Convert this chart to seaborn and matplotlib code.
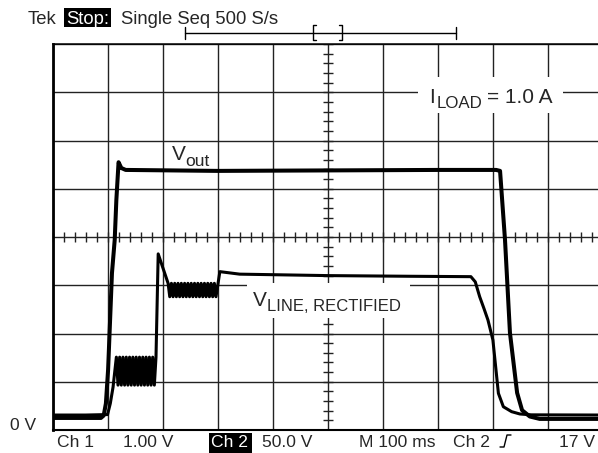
import numpy as np
import matplotlib
matplotlib.use("Agg")
import matplotlib.pyplot as plt
from matplotlib.lines import Line2D
from matplotlib.patches import Rectangle
import seaborn as sns

sns.set_style("white")
plt.rcParams["font.family"] = ["Liberation Sans", "DejaVu Sans"]

# scope settings
ch1_scale = 1.0     # V/div, Vout
ch2_scale = 50.0    # V/div, Vline
time_div = 100      # ms/div
ground_div = 0.25   # 0 V marker, divisions above the bottom

# Vout (ch 1): time in ms, volts
t_out = [0, 88, 93, 97, 101, 108, 113, 116, 120, 125, 133, 300, 500, 700,
         806, 813, 822, 831, 844, 853, 867, 885, 1000]
v_out = [0.0, 0.0, 0.05, 0.3, 1.0, 3.0, 3.69, 4.52, 5.30, 5.18, 5.14, 5.12,
         5.13, 5.14, 5.14, 5.12, 3.69, 1.76, 0.52, 0.16, 0.03, -0.02, -0.02]

# V_LINE rectified (ch 2): time in ms, volts
t_line = [0, 60, 100, 105, 110, 116,
          119, 122, 125, 128, 131, 134, 137, 140, 143, 146, 149, 152,
          155, 158, 161, 164, 167, 170, 173, 176, 179, 182, 185, 188,
          192,
          210, 213, 216, 219, 222, 225, 228, 231, 234, 237, 240, 243, 246, 249, 252,
          255, 258, 261, 264, 267, 270, 273, 276, 279, 282, 285, 288, 291, 294, 297,
          304, 340, 500, 650, 760, 768, 776, 784, 791, 800, 805, 810, 819, 834,
          849, 870, 1000]
v_line = [3, 3, 3.5, 15, 32, 63,
          34, 63, 34, 63, 34, 63, 34, 63, 34, 63, 34, 63,
          34, 63, 34, 63, 34, 63, 34, 63, 34, 63, 34, 63,
          170,
          139.5, 125.6, 139.5, 125.6, 139.5, 125.6, 139.5, 125.6, 139.5, 125.6,
          139.5, 125.6, 139.5, 125.6, 139.5, 125.6, 139.5, 125.6, 139.5, 125.6,
          139.5, 125.6, 139.5, 125.6, 139.5, 125.6, 139.5, 125.6, 139.5, 125.6,
          151.6, 149, 147.5, 146.8, 146.4, 141, 125.6, 113, 101.5, 80.8, 53.1,
          25.5, 11.6, 6.5, 4.1, 3.2, 3.0]

W, H = 598, 453
fig = plt.figure(figsize=(W / 100, H / 100), dpi=100)
# screen grid: 10 x 55 px wide, 8 x 48.25 px high (right edge is cut off)
ax = fig.add_axes([52.5 / W, (H - 430) / H, 550.5 / W, 386 / H])
ax.set_xlim(0, 10 * time_div)
ax.set_ylim(-ground_div * ch1_scale, (8 - ground_div) * ch1_scale)

grid_col = "#222222"
ax.set_xticks(np.arange(0, 10 * time_div + 1, time_div))
ax.set_yticks(ax.get_ylim()[0] + np.arange(9) * ch1_scale)
ax.grid(True, color=grid_col, linewidth=1.0)
ax.tick_params(length=0, labelbottom=False, labelleft=False)
for side, lw in [("left", 2.0), ("bottom", 1.5), ("top", 1.1)]:
    ax.spines[side].set_linewidth(lw)
    ax.spines[side].set_color("black")
ax.spines["right"].set_visible(False)

# minor ticks on the centre cross
y_mid = ax.get_ylim()[0] + 4 * ch1_scale
ax.plot(np.arange(0, 1001, 20), np.full(51, y_mid), ls="none", marker="|",
        ms=7.2, mew=1.0, color=grid_col, clip_on=False)
ax.plot(np.full(41, 5 * time_div), ax.get_ylim()[0] + np.arange(41) * 0.2,
        ls="none", marker="_", ms=7.6, mew=1.0, color=grid_col)

sns.lineplot(x=t_out, y=v_out, ax=ax, color="black", linewidth=2.9,
             estimator=None, sort=False, solid_capstyle="round",
             solid_joinstyle="round")

ax2 = ax.twinx()
ax2.set_ylim(-ground_div * ch2_scale, (8 - ground_div) * ch2_scale)
sns.lineplot(x=t_line, y=v_line, ax=ax2, color="black", linewidth=2.2,
             estimator=None, sort=False, solid_joinstyle="round")
ax2.set_axis_off()
ax.set_xlabel("")
ax.set_ylabel("")


def ftext(x, y, s, size, **kw):
    fig.text(x / W, 1 - y / H, s, fontsize=size, ha="left", va="baseline", **kw)


def fbox(x0, y0, x1, y1, color):
    fig.add_artist(Rectangle((x0 / W, 1 - y1 / H), (x1 - x0) / W, (y1 - y0) / H,
                             transform=fig.transFigure, facecolor=color,
                             edgecolor="none", zorder=1))


def fline(xs, ys, lw=1.0):
    fig.add_artist(Line2D([x / W for x in xs], [1 - y / H for y in ys],
                          transform=fig.transFigure, color="black", lw=lw))


# header
ftext(27.5, 23.5, "Tek", 13.3)
fbox(64, 8, 111, 27, "black")
ftext(66, 23.5, "Stop:", 13.3, color="white", zorder=4)
ftext(121, 23.5, "Single Seq 500 S/s", 13.3)

# record bar
fline([185, 456], [33, 33])
fline([185, 185], [27, 39])
fline([456, 456], [27, 39])
fline([316, 313, 313, 316], [25, 25, 40, 40])
fline([339, 342, 342, 339], [25, 25, 40, 40])

# trace labels
fbox(418, 77, 563, 113, "white")
ftext(429, 103.3, "I", 15)
ftext(436.5, 108.3, "LOAD", 12.2)
ftext(487, 103.3, "= 1.0 A", 15)

ftext(171.7, 160.5, "V", 15)
ftext(185.5, 166, "out", 12.5)

fbox(247, 283, 410, 318, "white")
ftext(252.7, 306, "V", 15)
ftext(266.7, 310.7, "LINE, RECTIFIED", 12)

ftext(9.5, 430, "0 V", 12.5)

# bottom status line
ftext(57, 447, "Ch 1", 12.6)
ftext(123, 447, "1.00 V", 12.6)
fbox(209, 433, 252, 453, "black")
ftext(211, 447, "Ch 2", 12.6, color="white", zorder=4)
ftext(262, 447, "50.0 V", 12.6)
ftext(359, 447, "M 100 ms", 12.6)
ftext(453, 447, "Ch 2", 12.6)
fline([500, 504, 507, 511], [447, 447, 435, 435])
ftext(559, 447, "17 V", 12.6)

fig.savefig("out.png", dpi=100)
